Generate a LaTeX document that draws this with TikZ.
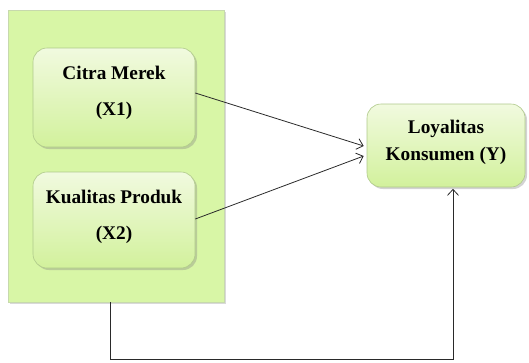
\documentclass[tikz,border=0pt]{standalone}
\usepackage{fontspec}
\setmainfont{Liberation Serif}
\usetikzlibrary{arrows.meta,shadows,calc}
\definecolor{outerfill}{HTML}{D8F6A6}
\definecolor{boxtop}{HTML}{F1FADF}
\definecolor{boxbot}{HTML}{D2F19C}
\definecolor{boxline}{HTML}{AFC98A}
\definecolor{conn}{HTML}{2A2A2A}
\tikzset{
  outerbox/.style={draw=boxline!70, line width=0.4pt, fill=outerfill, rectangle,
    drop shadow={opacity=0.3, shadow xshift=2pt, shadow yshift=-2pt}},
  varbox/.style={draw=boxline, line width=0.6pt, rounded corners=14pt, rectangle,
    top color=boxtop, bottom color=boxbot,
    drop shadow={opacity=0.35, shadow xshift=2pt, shadow yshift=-2pt},
    font=\fontsize{19.3}{36}\selectfont\bfseries, align=center, inner sep=0pt},
  arr/.style={draw=conn, line width=0.8pt, -{Straight Barb[length=6pt,width=11pt]}},
  plain/.style={draw=conn, line width=0.8pt}
}
\begin{document}
\begin{tikzpicture}[x=1pt,y=-1pt]
\useasboundingbox (0,0) rectangle (529,362);
\node[outerbox, minimum width=216pt, minimum height=292pt] (outer) at (116,156) {};
\node[varbox, minimum width=162pt, minimum height=99pt, text depth=14pt] (citra) at (114,97.5)
  {Citra Merek\\(X1)};
\node[varbox, minimum width=162pt, minimum height=96pt, text depth=10pt] (kual) at (114,220)
  {Kualitas Produk\\(X2)};
\node[varbox, minimum width=158pt, minimum height=83pt, text depth=10pt,
  font=\fontsize{19.3}{27}\selectfont\bfseries] (loy) at (446,145.5)
  {Loyalitas\\Konsumen (Y)};
\draw[arr] ($(citra.east)+(0,-4.5)$) -- ($(loy.west)+(-3,0.5)$);
\draw[arr] ($(kual.east)+(0,-1)$) -- ($(loy.west)+(-3,10.5)$);
\coordinate (b1) at ($(outer.south)+(-6,57)$);
\draw[arr] ($(outer.south)+(-6,0)$) -- (b1) -| ($(loy.south)+(7,1.5)$);
\end{tikzpicture}
\end{document}
